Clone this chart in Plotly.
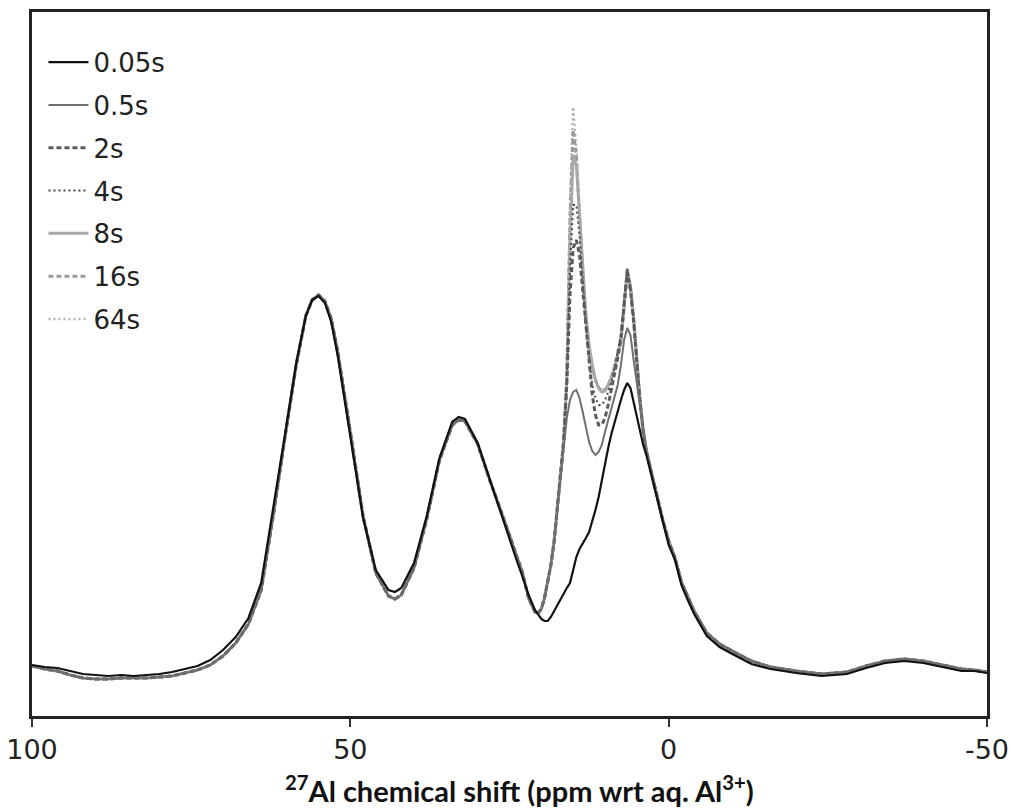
import plotly.graph_objects as go

# ---------------- data ----------------
labels = ["0.05s", "0.5s", "2s", "4s", "8s", "16s", "64s"]

# chemical-shift grid (ppm), split in three parts
shift_left = [100, 98, 96, 94, 92, 90, 88, 86, 84, 82, 80, 78, 76, 74, 72, 70, 68, 66, 64, 62,
              60, 58.5, 57, 56, 55, 54, 53, 52, 50, 48, 46, 44, 43, 42, 40, 38, 36, 34, 33, 32,
              30, 28, 26, 24, 23]
shift_mid = [22, 21, 20.5, 20, 19.5, 19, 18.5, 18, 17.5, 17, 16.5, 16, 15.5, 15, 14.5, 14, 13.5,
             13, 12.5, 12, 11.5, 11, 10.5, 10, 9.5, 9, 8.5, 8, 7.5, 7, 6.5, 6, 5.5, 5, 4.5, 4,
             3.5, 3, 2, 1, 0]
shift_right = [-1, -2, -3, -4, -6, -8, -10, -13, -16, -20, -24, -28, -31, -34, -37, -40, -43,
               -46, -48, -50]

# intensity (a.u.) outside the 22..0 ppm region
left_0_05s = [51, 49, 48, 45, 42, 41, 40, 41, 40, 41, 42, 44, 47, 50, 56, 66, 79, 98, 133, 211,
              292, 353, 400, 416, 420, 413, 394, 361, 280, 198, 146, 126, 124, 128, 153, 200,
              258, 294, 299, 297, 273, 234, 197, 158, 140]
left_later = [50, 47, 45, 41, 38, 37, 37, 38, 38, 38, 39, 40, 43, 46, 51, 60, 73, 92, 126, 205,
              290, 351, 400, 416, 421, 415, 397, 365, 284, 200, 143, 120, 117, 121, 148, 197,
              256, 291, 296, 295, 272, 234, 199, 162, 144]
right_0_05s = [156, 131, 116, 102, 80, 69, 62, 52, 47, 43, 40, 42, 48, 53, 55, 53, 49, 45, 45, 43]
right_later = [158, 134, 119, 105, 83, 72, 65, 55, 49, 45, 42, 44, 50, 55, 57, 55, 51, 47, 46, 44]

# intensity (a.u.) in the 22..0 ppm region, one list per recycle delay
mid_0_05s = [121, 106, 101, 97, 95, 95, 99, 105, 111, 116, 122, 128, 133, 146, 159, 167, 172,
             178, 184, 194, 206, 219, 236, 254, 268, 282, 294, 306, 316, 326, 333, 328, 314,
             298, 284, 271, 261, 248, 221, 194, 171]
mid_0_5s = [118, 104, 103, 107, 118, 134, 151, 174, 206, 238, 271, 298, 316, 324, 326, 318, 304,
            288, 274, 265, 261, 264, 271, 284, 296, 306, 318, 331, 351, 376, 388, 381, 356, 331,
            308, 286, 266, 251, 223, 196, 173]
mid_2s = [118, 104, 103, 107, 118, 134, 151, 174, 206, 238, 274, 331, 421, 468, 476, 461, 426,
          386, 351, 321, 301, 291, 291, 298, 311, 326, 341, 358, 378, 414, 444, 426, 394, 354,
          314, 284, 264, 251, 224, 198, 175]
mid_4s = [118, 104, 103, 107, 118, 134, 151, 174, 206, 238, 274, 334, 448, 511, 511, 481, 431,
          391, 356, 331, 318, 311, 311, 316, 324, 334, 348, 366, 381, 416, 448, 428, 396, 356,
          316, 286, 266, 252, 224, 198, 175]
mid_8s = [118, 104, 103, 107, 118, 134, 151, 174, 206, 238, 274, 336, 476, 561, 551, 501, 446,
          401, 371, 351, 336, 328, 324, 325, 330, 338, 348, 361, 374, 408, 446, 428, 398, 356,
          316, 286, 266, 252, 224, 198, 175]
mid_16s = [118, 104, 103, 107, 118, 134, 151, 174, 206, 238, 274, 341, 496, 586, 561, 501, 441,
           396, 366, 348, 336, 328, 325, 326, 331, 339, 350, 364, 376, 411, 446, 429, 398, 356,
           316, 286, 266, 252, 224, 198, 175]
mid_64s = [118, 104, 103, 107, 118, 134, 151, 174, 206, 238, 274, 346, 516, 609, 566, 506, 448,
           404, 371, 351, 336, 329, 326, 327, 332, 340, 350, 363, 376, 411, 448, 431, 399, 356,
           316, 286, 266, 252, 224, 198, 175]

x_ticks = [100, 50, 0, -50]
x_tick_text = ["100", "50", "0", "-50"]

# ---------------- figure ----------------
shift_all = shift_left + shift_mid + shift_right
series = {
    "0.05s": left_0_05s + mid_0_05s + right_0_05s,
    "0.5s": left_later + mid_0_5s + right_later,
    "2s": left_later + mid_2s + right_later,
    "4s": left_later + mid_4s + right_later,
    "8s": left_later + mid_8s + right_later,
    "16s": left_later + mid_16s + right_later,
    "64s": left_later + mid_64s + right_later,
}
styles = {
    "0.05s": dict(color="#111111", width=2.2, dash="solid"),
    "0.5s": dict(color="#707070", width=2, dash="solid"),
    "2s": dict(color="#5a5a5a", width=3, dash="5px,3px"),
    "4s": dict(color="#4a4a4a", width=2, dash="2px,3px"),
    "8s": dict(color="#a8a8a8", width=3, dash="solid"),
    "16s": dict(color="#9a9a9a", width=3, dash="5px,3px"),
    "64s": dict(color="#b4b4b4", width=2.5, dash="2px,3px"),
}

fig = go.Figure()
for name in reversed(labels):
    fig.add_trace(go.Scatter(
        x=shift_all, y=series[name], mode="lines", name=name,
        legendgroup=name, legendrank=labels.index(name) + 1, line=styles[name],
    ))

fig.update_layout(
    width=1011, height=812,
    margin=dict(l=32, r=24, t=12, b=96, autoexpand=False),
    paper_bgcolor="white", plot_bgcolor="white",
    showlegend=True,
    legend=dict(
        x=0.012, y=0.962, xanchor="left", yanchor="top",
        traceorder="grouped", tracegroupgap=6, itemwidth=40,
        font=dict(family="DejaVu Sans", size=26, color="#222222"),
        bgcolor="rgba(0,0,0,0)", borderwidth=0,
    ),
    xaxis=dict(
        range=[100, -50], tickvals=x_ticks, ticktext=x_tick_text,
        ticks="outside", ticklen=8, tickwidth=2, tickcolor="#333333",
        showline=True, linecolor="#222222", linewidth=2.5, mirror=True,
        showgrid=False, zeroline=False, automargin=False,
        tickfont=dict(family="DejaVu Sans", size=27, color="#222222"),
    ),
    yaxis=dict(
        range=[0, 704], showticklabels=False, ticks="",
        showline=True, linecolor="#222222", linewidth=2.5, mirror=True,
        showgrid=False, zeroline=False, automargin=False,
    ),
    annotations=[dict(
        text="<b><sup>27</sup>Al chemical shift (ppm wrt aq. Al<sup>3+</sup>)</b>",
        xref="paper", yref="paper", x=0.51, y=-0.1335, xanchor="center", yanchor="bottom",
        showarrow=False, font=dict(family="Lato", size=29, color="#111111"),
    )],
)

fig.write_html("out.html")
